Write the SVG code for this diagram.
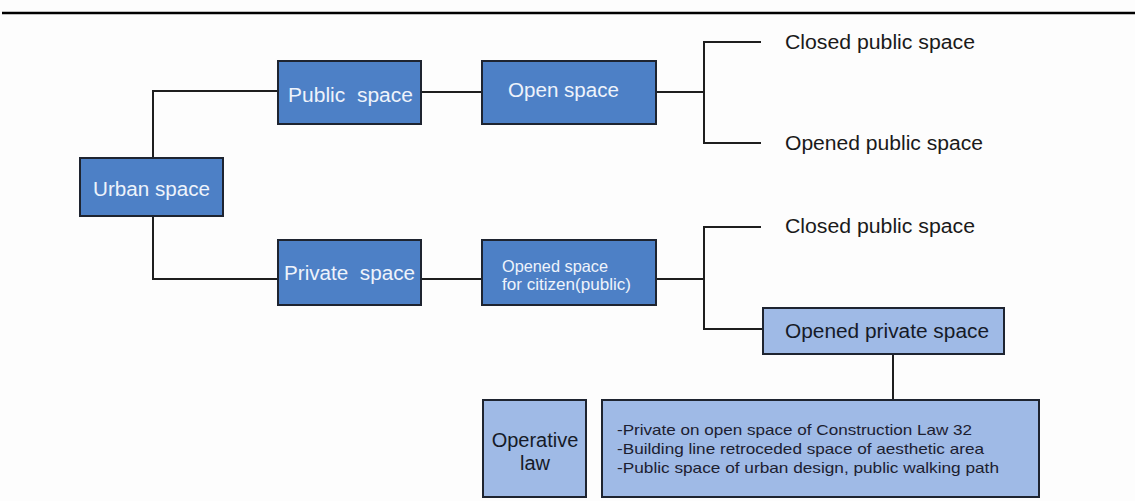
<svg xmlns="http://www.w3.org/2000/svg" width="1135" height="501" viewBox="0 0 1135 501">
  <style>
    .dark { fill: #4d80c6; stroke: #1e2430; stroke-width: 2; }
    .light { fill: #9fbae6; stroke: #1e2430; stroke-width: 2; }
    .wire { fill: none; stroke: #1e1e1e; stroke-width: 2; }
    text { font-family: "Liberation Sans", Arial, sans-serif; }
    .inv { fill: #eef3fb; font-size: 20px; }
    .inv-s { fill: #eef3fb; font-size: 16.5px; }
    .lbl { fill: #1a1a1a; font-size: 19.5px; }
    .dk { fill: #161a28; font-size: 20px; }
    .law { fill: #1c2030; font-size: 14.5px; }
  </style>
  <rect width="1135" height="501" fill="#fdfdfd"/>
  <line x1="2" y1="13" x2="1135" y2="13" stroke="#000" stroke-width="2.5"/>

  <g id="connectors">
    <polyline class="wire" points="153,158 153,91 278,91"/>
    <polyline class="wire" points="153,216 153,279 278,279"/>
    <line class="wire" x1="421" y1="92" x2="482" y2="92"/>
    <line class="wire" x1="656" y1="92" x2="704" y2="92"/>
    <polyline class="wire" points="761,42 704,42 704,143 761,143"/>
    <line class="wire" x1="421" y1="279" x2="482" y2="279"/>
    <line class="wire" x1="656" y1="279" x2="704" y2="279"/>
    <polyline class="wire" points="761,227 704,227 704,329 763,329"/>
    <line class="wire" x1="893" y1="354" x2="893" y2="400"/>
  </g>

  <g id="urban-space">
    <rect class="dark" x="80" y="158" width="143" height="58"/>
    <text class="inv" x="93" y="196" textLength="117" lengthAdjust="spacingAndGlyphs">Urban space</text>
  </g>
  <g id="public-space">
    <rect class="dark" x="278" y="61" width="143" height="63"/>
    <text class="inv" x="288" y="102" textLength="125" lengthAdjust="spacingAndGlyphs" xml:space="preserve">Public  space</text>
  </g>
  <g id="open-space">
    <rect class="dark" x="482" y="61" width="174" height="63"/>
    <text class="inv" x="508" y="97" textLength="111" lengthAdjust="spacingAndGlyphs">Open space</text>
  </g>
  <g id="private-space">
    <rect class="dark" x="278" y="240" width="143" height="65"/>
    <text class="inv" x="284" y="280" textLength="131" lengthAdjust="spacingAndGlyphs" xml:space="preserve">Private  space</text>
  </g>
  <g id="opened-space-citizen">
    <rect class="dark" x="482" y="240" width="174" height="65"/>
    <text class="inv-s" x="502" y="272" textLength="106" lengthAdjust="spacingAndGlyphs">Opened space</text>
    <text class="inv-s" x="502" y="290" textLength="129" lengthAdjust="spacingAndGlyphs">for citizen(public)</text>
  </g>

  <g id="closed-public-space-1">
    <text class="lbl" x="785" y="49" textLength="190" lengthAdjust="spacingAndGlyphs">Closed public space</text>
  </g>
  <g id="opened-public-space">
    <text class="lbl" x="785" y="150" textLength="198" lengthAdjust="spacingAndGlyphs">Opened public space</text>
  </g>
  <g id="closed-public-space-2">
    <text class="lbl" x="785" y="233" textLength="190" lengthAdjust="spacingAndGlyphs">Closed public space</text>
  </g>

  <g id="opened-private-space">
    <rect class="light" x="763" y="308" width="241" height="46"/>
    <text class="dk" x="785" y="338" textLength="204" lengthAdjust="spacingAndGlyphs">Opened private space</text>
  </g>

  <g id="operative-law">
    <rect class="light" x="483" y="400" width="103" height="97"/>
    <text class="dk" x="535" y="447" text-anchor="middle">Operative</text>
    <text class="dk" x="535" y="470" text-anchor="middle">law</text>
  </g>

  <g id="law-items">
    <rect class="light" x="602" y="400" width="437" height="97"/>
    <text class="law" x="617" y="435" textLength="355" lengthAdjust="spacingAndGlyphs">-Private on open space of Construction Law 32</text>
    <text class="law" x="617" y="454" textLength="367" lengthAdjust="spacingAndGlyphs">-Building line retroceded space of aesthetic area</text>
    <text class="law" x="617" y="473" textLength="382" lengthAdjust="spacingAndGlyphs">-Public space of urban design, public walking path</text>
  </g>
</svg>
